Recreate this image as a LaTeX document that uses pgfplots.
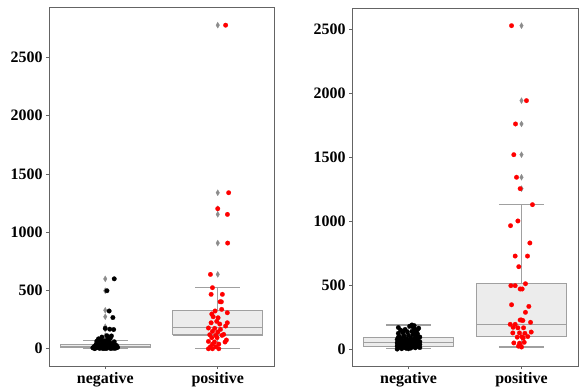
\documentclass[border=0pt]{standalone}
\usepackage{pgfplots}
\pgfplotsset{compat=1.18}
\usepackage{fontspec}
\setmainfont{Liberation Serif}
\definecolor{boxfill}{RGB}{236,236,236}
\definecolor{boxline}{RGB}{160,160,160}
\definecolor{framec}{RGB}{100,100,100}
\definecolor{outl}{RGB}{140,140,140}
\pgfdeclareplotmark{thind}{%
  \pgfpathmoveto{\pgfqpoint{0pt}{\pgfplotmarksize}}%
  \pgfpathlineto{\pgfqpoint{0.6\pgfplotmarksize}{0pt}}%
  \pgfpathlineto{\pgfqpoint{0pt}{-\pgfplotmarksize}}%
  \pgfpathlineto{\pgfqpoint{-0.6\pgfplotmarksize}{0pt}}%
  \pgfpathclose\pgfusepathqfillstroke}
\pgfplotsset{
  myaxis/.style={
    scale only axis, anchor=south west,
    xmin=-0.5, xmax=1.5, xtick={0,1}, xticklabels={\textbf{negative},\textbf{positive}},
    ytick={0,500,1000,1500,2000,2500},
    yticklabels={\textbf{0},\textbf{500},\textbf{1000},\textbf{1500},\textbf{2000},\textbf{2500}},
    axis line style={framec, line width=0.8pt},
    tick style={framec, line width=0.8pt},
    tick align=outside, major tick length=3bp,
    xtick pos=bottom, ytick pos=left,
    tick label style={font=\bfseries\fontsize{16}{16}\selectfont},
  },
  bxf/.style={draw=boxline, fill=boxfill, line width=1.2pt, line join=miter, no marks},
  bxl/.style={draw=boxline, line width=1.2pt, no marks},
  outs/.style={only marks, mark=thind, mark size=3bp, mark options={draw=outl, fill=outl, line width=0.2pt}},
  pts/.style={only marks, mark=*, mark size=2.3bp, mark options={draw=#1, fill=#1, line width=0.2pt}},
}
\begin{document}
\begin{tikzpicture}
\useasboundingbox (0,0) rectangle (580bp,390bp);
% ---------------- left panel ----------------
\begin{axis}[myaxis, at={(49bp,24bp)}, width=225bp, height=359bp, ymin=-148, ymax=2933]
% negative box: whiskers 0 / 70, quartiles 9 / 38, median 20
\addplot[bxl] coordinates {(0,38) (0,70)};
\addplot[bxl] coordinates {(0,9) (0,0)};
\addplot[bxl] coordinates {(-0.2,70) (0.2,70)};
\addplot[bxl] coordinates {(-0.2,0) (0.2,0)};
\addplot[bxf] coordinates {(-0.4,9) (0.4,9) (0.4,38) (-0.4,38) (-0.4,9)};
\addplot[bxl] coordinates {(-0.4,20) (0.4,20)};
% positive box: whiskers 0 / 524, quartiles 118 / 326, median 184
\addplot[bxl] coordinates {(1,326) (1,524)};
\addplot[bxl] coordinates {(1,118) (1,0)};
\addplot[bxl] coordinates {(0.8,524) (1.2,524)};
\addplot[bxl] coordinates {(0.8,0) (1.2,0)};
\addplot[bxf] coordinates {(0.6,118) (1.4,118) (1.4,326) (0.6,326) (0.6,118)};
\addplot[bxl] coordinates {(0.6,184) (1.4,184)};
% outliers
\addplot[outs] coordinates {(0,600) (0,498) (0,330) (0,275) (0,189) (0,168) (0,112) (0,100) (0,95)
  (1,2777) (1,1339) (1,1202) (1,1153) (1,907) (1,638)};
\addplot[pts=black] coordinates {
(0.08,600) (0.015,498) (0.035,324) (0.068,268) (0.0,175) (0.04,168) (0.075,165) (0.015,112) (0.055,110) (-0.03,100) (0.04,95)
(-0.09,5) (-0.07,12) (-0.05,3) (-0.03,20) (-0.01,8) (0.01,30) (0.03,15) (0.05,2) (0.07,25) (0.09,10)
(-0.08,40) (-0.06,55) (-0.04,35) (-0.02,62) (0.0,45) (0.02,70) (0.04,50) (0.06,38) (0.08,60) (0.1,28)
(-0.1,18) (-0.085,30) (-0.065,22) (-0.045,9) (-0.025,48) (-0.005,27) (0.015,4) (0.035,58) (0.055,42) (0.075,14)
(0.095,6) (-0.095,1) (-0.075,65) (-0.055,16) (-0.035,75) (-0.015,33) (0.005,11) (0.025,80) (0.045,24) (0.065,7)
(0.085,36) (-0.06,85) (0.0,68) (0.03,44) (-0.02,1) (0.06,19) (-0.04,26) (0.02,52) (-0.08,9) (0.08,3)
(0.11,12) (-0.11,8) (0.045,90) (-0.05,72) (0.0,2)};
\addplot[pts=red] coordinates {
(1.07,2777) (1.097,1339) (1.0,1202) (1.086,1153) (1.088,907) (0.935,638) (0.953,524) (0.941,467) (1.041,467)
(1.021,403) (1.032,403) (1.035,338) (0.976,324) (1.085,309) (0.947,298) (0.959,275) (1.003,266) (0.991,235)
(1.085,223) (0.941,223) (1.018,212) (1.07,195) (0.917,178) (0.973,175) (1.024,166) (0.953,149) (1.0,143)
(1.053,123) (0.929,120) (0.982,115) (1.038,115) (0.947,95) (0.994,95) (1.077,75) (0.917,63) (0.971,58)
(1.065,58) (0.953,40) (1.009,40) (0.935,17) (0.982,17) (0.917,0) (0.953,0) (1.009,0)};
\end{axis}
% ---------------- right panel ----------------
\begin{axis}[myaxis, at={(352bp,24bp)}, width=226bp, height=358bp, ymin=-130, ymax=2664]
% negative box: whiskers 6 / 190, quartiles 22 / 94, median 52
\addplot[bxl] coordinates {(0,94) (0,190)};
\addplot[bxl] coordinates {(0,22) (0,6)};
\addplot[bxl] coordinates {(-0.2,190) (0.2,190)};
\addplot[bxl] coordinates {(-0.2,6) (0.2,6)};
\addplot[bxf] coordinates {(-0.4,22) (0.4,22) (0.4,94) (-0.4,94) (-0.4,22)};
\addplot[bxl] coordinates {(-0.4,52) (0.4,52)};
% positive box: whiskers 18 / 1129, quartiles 98 / 512, median 195
\addplot[bxl] coordinates {(1,512) (1,1129)};
\addplot[bxl] coordinates {(1,98) (1,18)};
\addplot[bxl] coordinates {(0.8,1129) (1.2,1129)};
\addplot[bxl] coordinates {(0.8,18) (1.2,18)};
\addplot[bxf] coordinates {(0.6,98) (1.4,98) (1.4,512) (0.6,512) (0.6,98)};
\addplot[bxl] coordinates {(0.6,195) (1.4,195)};
\addplot[outs] coordinates {(1,2526) (1,1941) (1,1759) (1,1519) (1,1343) (1,1254)};
\addplot[pts=black] coordinates {
(-0.1,2) (-0.06,5) (-0.02,8) (0.02,10) (0.06,12) (0.1,14) (-0.08,16) (-0.04,18) (0.0,20) (0.04,22)
(0.08,24) (-0.1,26) (-0.06,28) (-0.02,30) (0.02,32) (0.06,35) (0.1,38) (-0.08,40) (-0.04,42) (0.0,44)
(0.04,46) (0.08,48) (-0.1,50) (-0.06,52) (-0.02,54) (0.02,56) (0.06,58) (0.1,60) (-0.08,63) (-0.04,66)
(0.0,69) (0.04,72) (0.08,75) (-0.1,78) (-0.06,81) (-0.02,84) (0.02,88) (0.06,92) (0.1,96) (-0.08,100)
(-0.04,105) (0.0,110) (0.04,115) (0.08,120) (-0.09,125) (-0.05,130) (-0.01,135) (0.03,140) (0.07,145) (-0.07,150)
(-0.03,155) (0.05,160) (0.09,165) (-0.09,170) (0.04,175) (0.01,180) (0.05,185) (0.03,190) (-0.03,15) (0.05,45)
(-0.07,70) (0.07,100) (-0.05,140) (0.08,155) (0.0,5) (0.09,30) (-0.09,95) (0.06,130) (-0.05,20) (0.03,60)};
\addplot[pts=red] coordinates {
(0.912,2526) (1.044,1941) (0.947,1759) (0.932,1519) (0.956,1343) (0.988,1254) (1.097,1129) (0.968,1002)
(0.903,965) (1.074,830) (0.944,728) (1.053,728) (0.976,645) (1.035,512) (0.906,497) (0.944,497) (0.988,471)
(1.006,471) (0.912,348) (1.065,335) (1.035,289) (1.0,229) (1.012,225) (0.988,229) (1.08,211) (0.9,195)
(0.944,195) (0.926,172) (0.968,168) (1.018,168) (0.923,128) (0.982,128) (1.03,125) (1.086,135) (1.056,100)
(1.003,98) (0.962,95) (1.015,88) (0.932,50) (0.982,48) (1.024,55) (0.973,25) (0.991,30) (1.0,18)};
\end{axis}
\end{tikzpicture}
\end{document}
